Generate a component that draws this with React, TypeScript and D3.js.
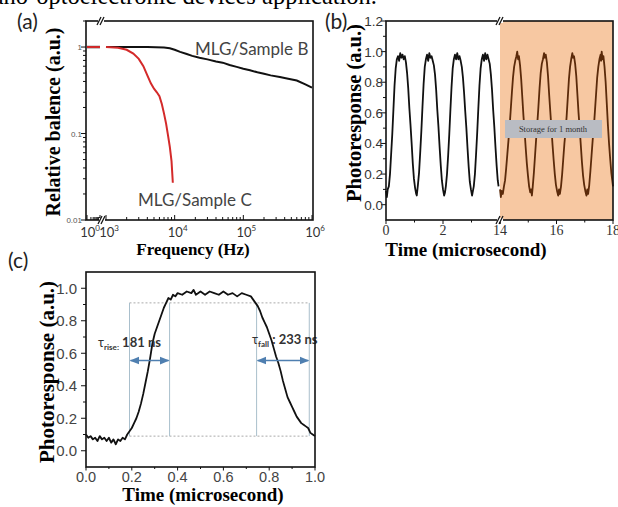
import React, { useEffect, useRef } from 'react';
import * as d3 from 'd3';

const W = 618;
const H = 507;

// (a) relative balance vs frequency, broken x axis (10^0..10^1 | 10^3..10^6)
const lowFreq = [1, 10];
const lowBalance = [1, 1];
const freqB = [1000, 2000, 4000, 7000, 8500, 10000, 12000, 15000, 18000, 23000, 30000, 40000, 50000, 63000, 80000, 100000, 125000, 160000, 200000, 250000, 340000, 450000, 600000, 800000, 1000000];
const balanceB = [1, 1, 1, 0.99, 0.97, 0.93, 0.88, 0.83, 0.79, 0.75, 0.72, 0.68, 0.66, 0.62, 0.59, 0.56, 0.54, 0.51, 0.49, 0.47, 0.45, 0.43, 0.41, 0.37, 0.34];
const freqC = [1000, 1500, 2000, 2500, 3000, 3500, 4000, 4500, 5000, 5500, 6000, 6500, 7000, 7500, 8000, 8500, 9000, 9400];
const balanceC = [1, 0.98, 0.93, 0.84, 0.73, 0.6, 0.47, 0.38, 0.33, 0.3, 0.27, 0.22, 0.17, 0.13, 0.095, 0.07, 0.048, 0.027];
const freqLabels = [0, 3, 4, 5, 6];

// (b) photoresponse before / after one month storage
const beforeStorage: [number, number][] = [
  [0.00, 0.09], [0.03, 0.05], [0.06, 0.10], [0.10, 0.12], [0.14, 0.20], [0.18, 0.33], [0.22, 0.46], [0.26, 0.62], [0.30, 0.78], [0.34, 0.89],
  [0.38, 0.95], [0.42, 0.97], [0.46, 0.94], [0.50, 0.99], [0.54, 0.96], [0.58, 0.98], [0.62, 0.95], [0.66, 0.97], [0.70, 0.93], [0.74, 0.86],
  [0.78, 0.76], [0.82, 0.63], [0.86, 0.52], [0.90, 0.40], [0.94, 0.27], [0.98, 0.17], [1.02, 0.11], [1.06, 0.07],
  [1.08, 0.06], [1.12, 0.13], [1.16, 0.21], [1.20, 0.34], [1.24, 0.48], [1.28, 0.64], [1.32, 0.79], [1.36, 0.90], [1.40, 0.95], [1.44, 0.98],
  [1.48, 0.94], [1.52, 0.99], [1.56, 0.96], [1.60, 0.97], [1.64, 0.94], [1.68, 0.91], [1.72, 0.85], [1.76, 0.75], [1.80, 0.62], [1.84, 0.51],
  [1.88, 0.38], [1.92, 0.26], [1.96, 0.16], [2.00, 0.10], [2.04, 0.06],
  [2.07, 0.08], [2.10, 0.12], [2.14, 0.20], [2.18, 0.32], [2.22, 0.46], [2.26, 0.62], [2.30, 0.77], [2.34, 0.89], [2.38, 0.95], [2.42, 0.98],
  [2.46, 0.95], [2.50, 0.99], [2.54, 0.95], [2.58, 0.97], [2.62, 0.94], [2.66, 0.90], [2.70, 0.83], [2.74, 0.73], [2.78, 0.61], [2.82, 0.50],
  [2.86, 0.37], [2.90, 0.25], [2.94, 0.15], [2.98, 0.10], [3.02, 0.06],
  [3.05, 0.09], [3.08, 0.12], [3.12, 0.20], [3.16, 0.33], [3.20, 0.47], [3.24, 0.63], [3.28, 0.78], [3.32, 0.89], [3.36, 0.95], [3.40, 0.98],
  [3.44, 0.94], [3.48, 0.99], [3.52, 0.95], [3.56, 0.98], [3.60, 0.95], [3.64, 0.92], [3.68, 0.85], [3.72, 0.75], [3.76, 0.62], [3.80, 0.51],
  [3.84, 0.38], [3.88, 0.26], [3.92, 0.16], [3.95, 0.12]
];
const afterStorage: [number, number][] = [
  [14.00, 0.10], [14.03, 0.05], [14.06, 0.09], [14.10, 0.07], [14.14, 0.12], [14.18, 0.16], [14.22, 0.24], [14.26, 0.33], [14.30, 0.42], [14.34, 0.51],
  [14.38, 0.62], [14.42, 0.73], [14.46, 0.83], [14.50, 0.90], [14.54, 0.94], [14.58, 0.97], [14.61, 1.00], [14.64, 0.95], [14.67, 0.97], [14.71, 0.91],
  [14.75, 0.82], [14.79, 0.70], [14.83, 0.58], [14.87, 0.48], [14.91, 0.37], [14.95, 0.27], [14.99, 0.19], [15.03, 0.12], [15.07, 0.08], [15.10, 0.10],
  [15.13, 0.06], [15.16, 0.12], [15.20, 0.21], [15.24, 0.32], [15.28, 0.43], [15.32, 0.53], [15.36, 0.64], [15.40, 0.76], [15.44, 0.86], [15.48, 0.92],
  [15.52, 0.95], [15.56, 0.99], [15.59, 0.96], [15.62, 0.98], [15.66, 0.93], [15.70, 0.84], [15.74, 0.72], [15.78, 0.61], [15.82, 0.50], [15.86, 0.39],
  [15.90, 0.29], [15.94, 0.20], [15.98, 0.13], [16.02, 0.09], [16.06, 0.06], [16.09, 0.10], [16.12, 0.07], [16.16, 0.12], [16.20, 0.20], [16.24, 0.30],
  [16.28, 0.40], [16.32, 0.48], [16.36, 0.58], [16.40, 0.70], [16.44, 0.82], [16.48, 0.90], [16.52, 0.95], [16.56, 0.99], [16.59, 0.96], [16.62, 0.97],
  [16.66, 0.92], [16.70, 0.84], [16.74, 0.72], [16.78, 0.60], [16.82, 0.50], [16.86, 0.39], [16.90, 0.28], [16.94, 0.19], [16.98, 0.13], [17.02, 0.09],
  [17.06, 0.06], [17.09, 0.10], [17.12, 0.07], [17.16, 0.13], [17.20, 0.22], [17.24, 0.32], [17.28, 0.42], [17.32, 0.50], [17.36, 0.61], [17.40, 0.72],
  [17.44, 0.83], [17.48, 0.90], [17.52, 0.95], [17.56, 0.98], [17.58, 0.94], [17.60, 1.00], [17.63, 0.95], [17.66, 0.97], [17.70, 0.90], [17.74, 0.80],
  [17.78, 0.66], [17.82, 0.52], [17.86, 0.40], [17.90, 0.30], [17.94, 0.21], [17.98, 0.15], [18.00, 0.12]
];
const timeLabelsB = [0, 2, 14, 16, 18];

// (c) single pulse, rise / fall times
const pulse: [number, number][] = [
  [0.00, 0.10], [0.01, 0.08], [0.02, 0.09], [0.03, 0.07], [0.04, 0.08], [0.05, 0.06], [0.06, 0.09], [0.07, 0.07], [0.08, 0.08], [0.09, 0.06],
  [0.10, 0.08], [0.11, 0.05], [0.12, 0.07], [0.13, 0.04], [0.14, 0.07], [0.15, 0.06], [0.16, 0.08], [0.17, 0.07], [0.18, 0.10], [0.19, 0.12],
  [0.20, 0.14], [0.21, 0.17], [0.22, 0.20], [0.23, 0.24], [0.24, 0.29], [0.25, 0.35], [0.26, 0.42], [0.27, 0.49], [0.28, 0.57], [0.29, 0.66],
  [0.30, 0.72], [0.31, 0.76], [0.32, 0.80], [0.33, 0.84], [0.34, 0.88], [0.35, 0.91], [0.36, 0.94], [0.37, 0.93], [0.38, 0.96], [0.39, 0.95],
  [0.40, 0.97], [0.42, 0.96], [0.44, 0.98], [0.46, 0.97], [0.47, 0.99], [0.48, 0.96], [0.50, 0.98], [0.52, 0.96], [0.54, 0.98], [0.56, 0.97],
  [0.58, 0.96], [0.60, 0.98], [0.62, 0.96], [0.64, 0.97], [0.66, 0.95], [0.68, 0.97], [0.70, 0.96], [0.72, 0.95], [0.73, 0.93], [0.74, 0.91],
  [0.75, 0.89], [0.76, 0.86], [0.77, 0.82], [0.78, 0.79], [0.79, 0.76], [0.80, 0.72], [0.81, 0.68], [0.82, 0.63], [0.83, 0.58], [0.84, 0.54],
  [0.85, 0.49], [0.86, 0.43], [0.87, 0.38], [0.88, 0.33], [0.89, 0.30], [0.90, 0.27], [0.91, 0.24], [0.92, 0.21], [0.93, 0.19], [0.94, 0.17],
  [0.95, 0.16], [0.96, 0.15], [0.97, 0.14], [0.98, 0.11], [0.99, 0.10], [1.00, 0.09]
];
const levels = [0.09, 0.91];
const riseSpan = [0.19, 0.365];
const fallSpan = [0.745, 0.975];
const arrowLevel = 0.555;

const SERIF = 'Liberation Serif, Times New Roman, serif';
const SANS = 'Liberation Sans, Arial, sans-serif';
const CAL = 'Lato, Open Sans, sans-serif';

export default function App() {
  const svgRef = useRef<SVGSVGElement>(null);

  useEffect(() => {
    const svg = d3.select(svgRef.current);
    svg.selectAll('*').remove();
    svg.append('rect').attr('width', W).attr('height', H).attr('fill', '#fff');

    const defs = svg.append('defs');
    defs.append('marker')
      .attr('id', 'arr')
      .attr('viewBox', '0 0 10 10')
      .attr('refX', 9).attr('refY', 5)
      .attr('markerWidth', 6).attr('markerHeight', 6)
      .attr('orient', 'auto-start-reverse')
      .append('path').attr('d', 'M0,1L10,5L0,9Z').attr('fill', '#4f7fb0');

    const line = (g: any, x1: number, y1: number, x2: number, y2: number, w = 1.2) =>
      g.append('line').attr('x1', x1).attr('y1', y1).attr('x2', x2).attr('y2', y2)
        .attr('stroke', '#111').attr('stroke-width', w);

    const breakMark = (x: number, y: number) => {
      svg.append('rect').attr('x', x - 3).attr('y', y - 2).attr('width', 6).attr('height', 4).attr('fill', '#fff');
      line(svg, x - 4, y + 4, x, y - 4, 1.3);
      line(svg, x - 1, y + 4, x + 3, y - 4, 1.3);
    };

    // header text, clipped at the top edge
    svg.append('text')
      .attr('x', 377).attr('y', 4)
      .attr('text-anchor', 'end')
      .attr('font-family', SERIF).attr('font-size', 24.5)
      .text('nano-optoelectronic devices application.');

    // ---------- (a) ----------
    const aL = 86, aR = 313, aT = 21, aB = 220;
    const ay = d3.scaleLog().domain([0.01, 2]).range([aB, aT]);
    const ax1 = d3.scaleLog().domain([1, 10]).range([87, 100]);
    const ax2 = d3.scaleLog().domain([1e3, 1e6]).range([106, 312]);

    const lowLine = d3.line<number>().x((d, i) => ax1(lowFreq[i])).y(d => ay(d));
    const lineB = d3.line<number>().x((d, i) => ax2(freqB[i])).y(d => ay(d));
    const lineC = d3.line<number>().x((d, i) => ax2(freqC[i])).y(d => ay(d));

    svg.append('path').datum(lowBalance).attr('d', lowLine).attr('fill', 'none').attr('stroke', '#111').attr('stroke-width', 2.4);
    svg.append('path').datum(lowBalance).attr('d', lowLine).attr('fill', 'none').attr('stroke', '#d42a2a').attr('stroke-width', 2);
    svg.append('path').datum(balanceB).attr('d', lineB).attr('fill', 'none').attr('stroke', '#111').attr('stroke-width', 2);
    svg.append('path').datum(balanceC).attr('d', lineC).attr('fill', 'none').attr('stroke', '#d42a2a').attr('stroke-width', 2);

    svg.append('rect').attr('x', aL).attr('y', aT).attr('width', aR - aL).attr('height', aB - aT)
      .attr('fill', 'none').attr('stroke', '#111').attr('stroke-width', 1.6);

    ay.ticks().forEach(t => {
      const major = Math.abs(Math.log10(t) - Math.round(Math.log10(t))) < 1e-6;
      line(svg, aL, ay(t), aL - (major ? 5 : 3), ay(t), 1);
    });
    ax1.ticks().forEach(t => {
      const major = Math.abs(Math.log10(t) - Math.round(Math.log10(t))) < 1e-6;
      line(svg, ax1(t), aB, ax1(t), aB - (major ? 5 : 3), 1);
    });
    ax2.ticks().forEach(t => {
      const major = Math.abs(Math.log10(t) - Math.round(Math.log10(t))) < 1e-6;
      line(svg, ax2(t), aB, ax2(t), aB - (major ? 5 : 3), 1);
    });
    breakMark(101, aT);
    breakMark(102, aB);

    [1, 0.1, 0.01].forEach(v => {
      svg.append('text').attr('x', aL - 4).attr('y', ay(v) + 3)
        .attr('text-anchor', 'end').attr('font-family', SANS).attr('font-size', 8).attr('fill', '#555')
        .text(String(v));
    });
    freqLabels.forEach(e => {
      const x = e === 0 ? ax1(1) : ax2(Math.pow(10, e));
      const t = svg.append('text').attr('x', x + 3).attr('y', 237)
        .attr('text-anchor', 'middle').attr('font-family', CAL).attr('font-size', 13).attr('fill', '#333');
      t.append('tspan').text('10');
      t.append('tspan').attr('dy', -6).attr('font-size', 8).text(String(e));
    });

    svg.append('text').attr('x', 193).attr('y', 255).attr('text-anchor', 'middle')
      .attr('font-family', SERIF).attr('font-weight', 'bold').attr('font-size', 17).text('Frequency (Hz)');
    svg.append('text').attr('transform', 'translate(60,122) rotate(-90)').attr('text-anchor', 'middle')
      .attr('font-family', SERIF).attr('font-weight', 'bold').attr('font-size', 20).text('Relative balence (a.u.)');
    svg.append('text').attr('x', 195).attr('y', 55).attr('font-family', CAL).attr('font-size', 17).attr('fill', '#444').text('MLG/Sample B');
    svg.append('text').attr('x', 138).attr('y', 206).attr('font-family', CAL).attr('font-size', 17).attr('fill', '#444').text('MLG/Sample C');
    svg.append('text').attr('x', 17).attr('y', 29).attr('font-family', CAL).attr('font-size', 21).attr('fill', '#222').text('(a)');

    // ---------- (b) ----------
    const bL = 386, bR = 613, bT = 21, bB = 220;
    const by = d3.scaleLinear().domain([-0.1, 1.2]).range([bB, bT]);
    const bx1 = d3.scaleLinear().domain([0, 4]).range([bL, 500]);
    const bx2 = d3.scaleLinear().domain([14, 18]).range([500, bR]);

    svg.append('rect').attr('x', bx2(14)).attr('y', bT).attr('width', bx2(18) - bx2(14)).attr('height', bB - bT).attr('fill', '#f7c8a2');

    svg.append('path').datum(beforeStorage)
      .attr('d', d3.line<[number, number]>().x(d => bx1(d[0])).y(d => by(d[1])))
      .attr('fill', 'none').attr('stroke', '#111').attr('stroke-width', 1.8).attr('stroke-linejoin', 'round');
    svg.append('path').datum(afterStorage)
      .attr('d', d3.line<[number, number]>().x(d => bx2(d[0])).y(d => by(d[1])))
      .attr('fill', 'none').attr('stroke', '#5b2a0a').attr('stroke-width', 1.8).attr('stroke-linejoin', 'round');

    svg.append('rect').attr('x', 505).attr('y', 120).attr('width', 97).attr('height', 18).attr('fill', '#b9bcc3');
    svg.append('text').attr('x', 553).attr('y', 132).attr('text-anchor', 'middle')
      .attr('font-family', SERIF).attr('font-size', 8.5).attr('fill', '#333').text('Storage for 1 month');

    svg.append('rect').attr('x', bL).attr('y', bT).attr('width', bR - bL).attr('height', bB - bT)
      .attr('fill', 'none').attr('stroke', '#111').attr('stroke-width', 1.6);

    d3.range(0, 13).forEach(i => {
      const v = i / 10;
      line(svg, bL, by(v), bL - (i % 2 === 0 ? 5 : 3), by(v), 1);
      if (i % 2 === 0) {
        svg.append('text').attr('x', bL - 3).attr('y', by(v) + 5)
          .attr('text-anchor', 'end').attr('font-family', SANS).attr('font-size', 13.5).attr('fill', '#333')
          .text(d3.format('.1f')(v));
      }
    });
    [0, 1, 2, 3, 4].forEach(t => line(svg, bx1(t), bB, bx1(t), bB + (t % 2 === 0 ? 4 : 2.5), 1));
    [14, 15, 16, 17, 18].forEach(t => line(svg, bx2(t), bB, bx2(t), bB + (t % 2 === 0 ? 4 : 2.5), 1));
    breakMark(500, bT);
    breakMark(500, bB);
    timeLabelsB.forEach(t => {
      const x = t < 10 ? bx1(t) : bx2(t);
      svg.append('text').attr('x', x).attr('y', 235).attr('text-anchor', 'middle')
        .attr('font-family', SERIF).attr('font-size', 14).attr('fill', '#333').text(String(t));
    });

    svg.append('text').attr('x', 466).attr('y', 256).attr('text-anchor', 'middle')
      .attr('font-family', SERIF).attr('font-weight', 'bold').attr('font-size', 19).text('Time (microsecond)');
    svg.append('text').attr('transform', 'translate(361,113) rotate(-90)').attr('text-anchor', 'middle')
      .attr('font-family', SERIF).attr('font-weight', 'bold').attr('font-size', 20.5).text('Photoresponse (a.u.)');
    svg.append('text').attr('x', 325).attr('y', 29).attr('font-family', CAL).attr('font-size', 21).attr('fill', '#222').text('(b)');

    // ---------- (c) ----------
    const cL = 86, cR = 315, cT = 272, cB = 467;
    const cy = d3.scaleLinear().domain([-0.1, 1.1]).range([cB, cT]);
    const cx = d3.scaleLinear().domain([0, 1]).range([cL, cR]);

    levels.forEach(v => {
      svg.append('line').attr('x1', cx(riseSpan[0])).attr('x2', cx(fallSpan[1])).attr('y1', cy(v)).attr('y2', cy(v))
        .attr('stroke', '#aaa').attr('stroke-width', 1).attr('stroke-dasharray', '2,2');
    });
    [...riseSpan, ...fallSpan].forEach(t => {
      svg.append('line').attr('x1', cx(t)).attr('x2', cx(t)).attr('y1', cy(levels[0])).attr('y2', cy(levels[1]))
        .attr('stroke', '#a9bfcc').attr('stroke-width', 1);
    });

    svg.append('path').datum(pulse)
      .attr('d', d3.line<[number, number]>().x(d => cx(d[0])).y(d => cy(d[1])))
      .attr('fill', 'none').attr('stroke', '#111').attr('stroke-width', 1.8).attr('stroke-linejoin', 'round');

    [riseSpan, fallSpan].forEach(s => {
      svg.append('line').attr('x1', cx(s[0]) + 1).attr('x2', cx(s[1]) - 1).attr('y1', cy(arrowLevel)).attr('y2', cy(arrowLevel))
        .attr('stroke', '#4f7fb0').attr('stroke-width', 1.6)
        .attr('marker-start', 'url(#arr)').attr('marker-end', 'url(#arr)');
    });

    const tauLabel = (x: number, y: number, sub: string, val: string) => {
      const t = svg.append('text').attr('x', x).attr('y', y).attr('font-family', CAL).attr('fill', '#333');
      t.append('tspan').attr('font-size', 13).text('τ');
      t.append('tspan').attr('font-size', 8).attr('font-weight', 'bold').attr('dy', 3).text(sub);
      t.append('tspan').attr('font-size', 13).attr('font-weight', 'bold').attr('dy', -3).text(' ' + val);
    };
    tauLabel(98, 347, 'rise:', '181 ns');
    tauLabel(252, 344, 'fall', ': 233 ns');

    svg.append('rect').attr('x', cL).attr('y', cT).attr('width', cR - cL).attr('height', cB - cT)
      .attr('fill', 'none').attr('stroke', '#111').attr('stroke-width', 1.6);

    d3.range(0, 11).forEach(i => {
      const v = i / 10;
      line(svg, cL, cy(v), cL - (i % 2 === 0 ? 5 : 3), cy(v), 1);
      line(svg, cx(v), cB, cx(v), cB + (i % 2 === 0 ? 3.5 : 2), 1);
      if (i % 2 === 0) {
        svg.append('text').attr('x', cL - 9).attr('y', cy(v) + 5.5)
          .attr('text-anchor', 'end').attr('font-family', SANS).attr('font-size', 15).attr('fill', '#444')
          .text(d3.format('.1f')(v));
        svg.append('text').attr('x', cx(v)).attr('y', 482)
          .attr('text-anchor', 'middle').attr('font-family', SANS).attr('font-size', 14.5).attr('fill', '#444')
          .text(d3.format('.1f')(v));
      }
    });

    svg.append('text').attr('x', 203).attr('y', 501).attr('text-anchor', 'middle')
      .attr('font-family', SERIF).attr('font-weight', 'bold').attr('font-size', 19).text('Time (microsecond)');
    svg.append('text').attr('transform', 'translate(54,372) rotate(-90)').attr('text-anchor', 'middle')
      .attr('font-family', SERIF).attr('font-weight', 'bold').attr('font-size', 21).text('Photoresponse (a.u.)');
    svg.append('text').attr('x', 8).attr('y', 268).attr('font-family', CAL).attr('font-size', 21).attr('fill', '#222').text('(c)');
  }, []);

  return (
    <div style={{ position: 'absolute', left: 0, top: 0 }}>
      <svg ref={svgRef} width={W} height={H}></svg>
    </div>
  );
}
